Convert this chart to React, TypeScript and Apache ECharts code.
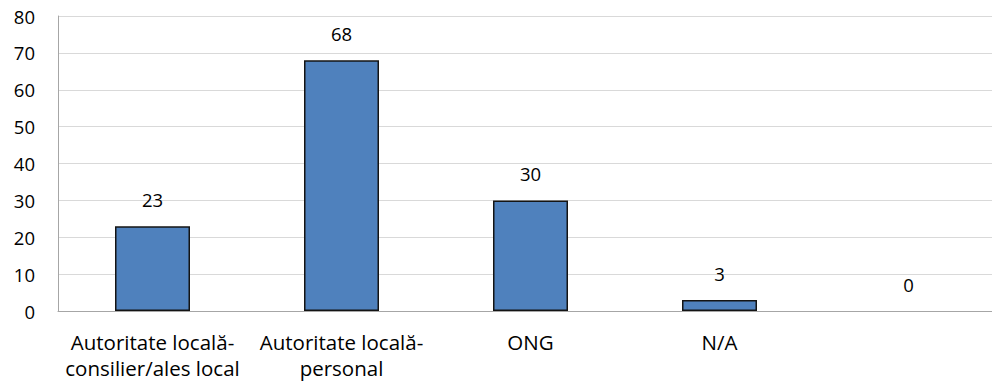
import React, { useEffect, useRef } from "react";
import * as echarts from "echarts";

const categories = [
  "Autoritate locală-\nconsilier/ales local",
  "Autoritate locală-\npersonal",
  "ONG",
  "N/A",
  "",
];
const values = [23, 68, 30, 3, 0];
const yTicks = { min: 0, max: 80, interval: 10 };

const FONT = "'Open Sans', sans-serif";

export default function App() {
  const ref = useRef<HTMLDivElement>(null);
  useEffect(() => {
    if (!ref.current) return;
    const chart = echarts.init(ref.current, undefined, { renderer: "svg" });
    chart.setOption({
      animation: false,
      backgroundColor: "#ffffff",
      grid: { left: 58, top: 16, width: 945, height: 295, containLabel: false },
      xAxis: {
        type: "category",
        data: categories,
        axisLine: { show: true, lineStyle: { color: "#a6a6a6", width: 1 } },
        axisTick: { show: false },
        axisLabel: {
          color: "#000000",
          fontSize: 20.5,
          fontFamily: FONT,
          lineHeight: 26,
          margin: 18,
          interval: 0,
        },
      },
      yAxis: {
        type: "value",
        min: yTicks.min,
        max: yTicks.max,
        interval: yTicks.interval,
        axisLine: { show: true, lineStyle: { color: "#a6a6a6", width: 1 } },
        axisTick: { show: false },
        splitLine: { show: true, lineStyle: { color: "#d9d9d9", width: 1 } },
        axisLabel: {
          color: "#000000",
          fontSize: 18.5,
          fontFamily: FONT,
          margin: 23,
        },
      },
      series: [
        {
          type: "bar",
          data: values.map((v) =>
            v === 0 ? { value: v, itemStyle: { borderWidth: 0, opacity: 0 } } : v
          ),
          barWidth: 75,
          itemStyle: {
            color: "#4f81bd",
            borderColor: "#141414",
            borderWidth: 1.5,
          },
          label: {
            show: true,
            position: "top",
            distance: 17,
            color: "#000000",
            fontSize: 18.5,
            fontFamily: FONT,
            opacity: 1,
          },
        },
      ],
    });
    return () => chart.dispose();
  }, []);
  return (
    <div
      style={{
        position: "fixed",
        left: 0,
        top: 0,
        width: 992,
        height: 386,
        overflow: "hidden",
        background: "#fff",
      }}
    >
      <div ref={ref} style={{ width: 1010, height: 386 }} />
    </div>
  );
}
